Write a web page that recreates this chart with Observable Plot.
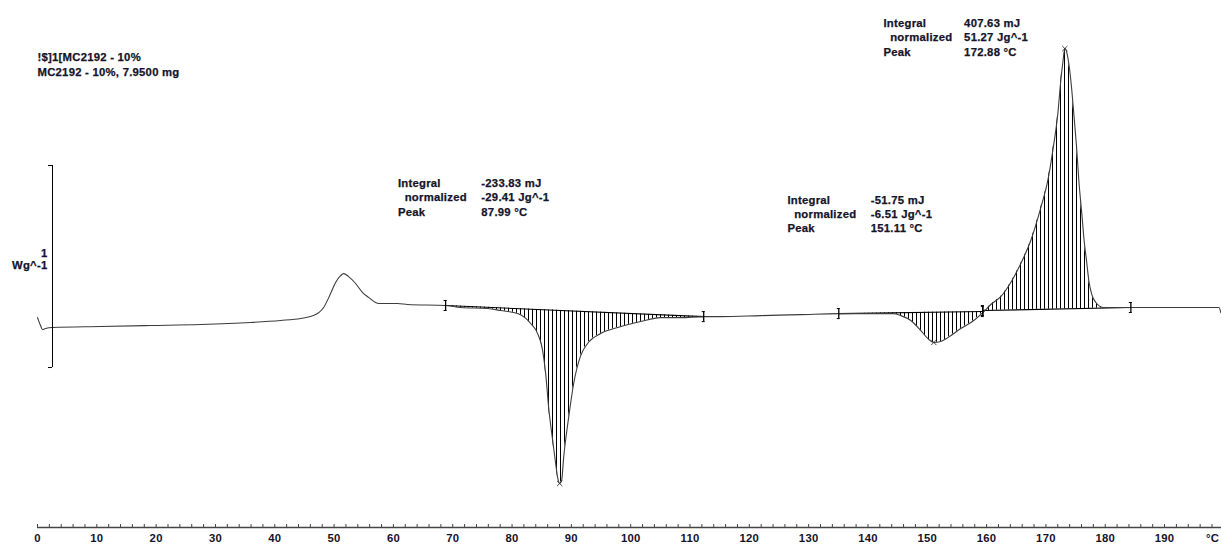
<!DOCTYPE html>
<html><head><meta charset="utf-8">
<script src="https://cdn.jsdelivr.net/npm/d3@7"></script>
<script src="https://cdn.jsdelivr.net/npm/@observablehq/plot@0.6"></script>
<style>html,body{margin:0;padding:0;background:#fff;}</style>
</head><body><div id="chart"></div>
<script>
// ---- data ----
const temperature = [0, 0.51, 0.84, 1.35, 2.53, 10.62, 19.06, 27.49, 35.92, 40.98, 44.35, 46.54, 48.23, 49.41, 50.25, 51.10, 51.60, 52.45, 53.63, 54.81, 55.82, 57.00, 57.50, 60.71, 62.39, 68.80, 71.33, 75.89, 78.08, 80.94, 83.14, 84.32, 85.16, 85.67, 86.17, 86.85, 87.35, 87.69, 88.03, 88.36, 88.70, 89.54, 90.39, 91.57, 92.75, 94.94, 97.81, 101.69, 105.06, 108.43, 112.31, 115.18, 121.92, 128.67, 135.08, 140.47, 144.35, 145.53, 147.22, 148.91, 150.08, 151.10, 152.28, 153.46, 155.65, 157.84, 159.36, 160.71, 162.39, 164.08, 165.77, 167.45, 169.14, 170.32, 171.16, 172.01, 172.51, 172.85, 173.19, 173.52, 173.86, 174.37, 174.70, 175.21, 175.55, 176.05, 176.39, 176.90, 177.23, 177.74, 178.42, 179.76, 184.32, 189.38, 196.12, 199.16, 199.49];
const heatFlow = [-0.050, -0.089, -0.109, -0.104, -0.099, -0.094, -0.089, -0.084, -0.074, -0.064, -0.054, -0.040, 0, 0.069, 0.124, 0.158, 0.168, 0.153, 0.119, 0.074, 0.050, 0.025, 0.020, 0.020, 0.015, 0.010, 0.000, -0.005, -0.015, -0.030, -0.079, -0.129, -0.213, -0.327, -0.495, -0.658, -0.772, -0.842, -0.871, -0.856, -0.743, -0.545, -0.376, -0.238, -0.178, -0.129, -0.099, -0.069, -0.050, -0.050, -0.045, -0.045, -0.040, -0.035, -0.030, -0.030, -0.030, -0.040, -0.064, -0.114, -0.153, -0.173, -0.168, -0.149, -0.104, -0.064, -0.025, 0.015, 0.054, 0.124, 0.218, 0.332, 0.495, 0.629, 0.777, 0.960, 1.124, 1.213, 1.282, 1.262, 1.208, 1.074, 0.960, 0.777, 0.629, 0.465, 0.347, 0.218, 0.134, 0.064, 0.025, 0, 0, 0, 0, 0, -0.025];

const peakTemps = [88.03, 151.10, 173.19];
const peakFlows = [-0.871, -0.173, 1.282];
const limitStart = [68.80, 135.08, 159.36];
const limitEnd = [112.31, 159.36, 184.32];
const baseStart = [0.010, -0.030, -0.015];
const baseEnd = [-0.045, -0.020, 0.000];

const resultLabels = ["Integral", "\u00a0\u00a0normalized", "Peak"];
const resultValues = [
  ["-233.83 mJ", "-29.41 Jg^-1", "87.99 °C"],
  ["-51.75 mJ", "-6.51 Jg^-1", "151.11 °C"],
  ["407.63 mJ", "51.27 Jg^-1", "172.88 °C"]
];
const sampleLines = ["!$]1[MC2192 - 10%", "MC2192 - 10%, 7.9500 mg"];
const scaleBarLines = ["1", "Wg^-1"];
const unitLabel = "°C";
const xTicks = d3.range(0, 200, 10);
const xMinorTicks = d3.range(0, 200, 2);

// ---- layout (positions of annotations, in data units) ----
const xDomain = [0, 199.6];
const yDomain = [-1.089, 1.520];
const resultPos = [
  {xl: 60.76, xv: 74.82, y: 0.648},
  {xl: 126.42, xv: 140.47, y: 0.565},
  {xl: 142.61, xv: 156.21, y: 1.440}
];
const headerPos = {x: 0, y: 1.275};
const scaleBarPos = {x: 2.53, y1: -0.297, y2: 0.703, labelY: 0.291};
const unitPos = 198.1;

// ---- derived tables ----
const curve = temperature.map((t, i) => ({t, v: heatFlow[i]}));
const regions = limitStart.map((t1, k) => ({k, t1, t2: limitEnd[k], v1: baseStart[k], v2: baseEnd[k]}));
const hatch = regions.flatMap(r => curve
  .filter(d => d.t >= r.t1 - 1e-9 && d.t <= r.t2 + 1e-9)
  .map(d => ({k: r.k, t: d.t, v: d.v, base: r.v1 + (r.v2 - r.v1) * (d.t - r.t1) / (r.t2 - r.t1)})));
const limits = regions.flatMap(r => [{t: r.t1, v: r.v1}, {t: r.t2, v: r.v2}]);
const peaks = peakTemps.map((t, i) => ({t, v: peakFlows[i]}));
const labelBlocks = resultPos.map(p => ({x: p.xl, y: p.y, text: resultLabels.join("\n")}));
const valueBlocks = resultPos.map((p, i) => ({x: p.xv, y: p.y, text: resultValues[i].join("\n")}));

const ink = "#14142a";
const textStyle = {fill: ink, stroke: ink, strokeWidth: 0.25};

const chart = Plot.plot({
  width: 1221,
  height: 545,
  marginLeft: 37,
  marginRight: 0,
  marginTop: 0,
  marginBottom: 18,
  x: {domain: xDomain},
  y: {domain: yDomain, axis: null},
  style: {fontFamily: "'Liberation Sans', Arial, sans-serif", fontSize: "11.3px", fontWeight: "bold", letterSpacing: "0.25px", color: ink, background: "#fff"},
  marks: [
    // hatched integration areas
    Plot.areaY(hatch, {x: "t", y1: "base", y2: "v", z: "k", fill: "url(#hatch)", curve: "monotone-x"}),
    // integration baselines
    Plot.link(regions, {x1: "t1", y1: "v1", x2: "t2", y2: "v2", stroke: "#000", strokeWidth: 1.1}),
    // DSC curve
    Plot.line(curve, {x: "t", y: "v", stroke: "#3c3c3c", strokeWidth: 1.1, curve: "monotone-x"}),
    // limit markers
    Plot.ruleX(limits, {x: "t", y1: "v", y2: "v", insetTop: -5, insetBottom: -5, stroke: "#000", strokeWidth: 1.3}),
    Plot.ruleY(limits, {y: "v", x1: "t", x2: "t", insetLeft: -1.5, insetRight: -1.5, dy: -5, stroke: "#000", strokeWidth: 1}),
    Plot.ruleY(limits, {y: "v", x1: "t", x2: "t", insetLeft: -1.5, insetRight: -1.5, dy: 5, stroke: "#000", strokeWidth: 1}),
    // peak markers
    Plot.dot(peaks, {x: "t", y: "v", symbol: "times", r: 2.5, stroke: "#333", strokeWidth: 0.9}),
    // scale bar
    Plot.ruleX([scaleBarPos], {x: "x", y1: "y1", y2: "y2", stroke: "#000", strokeWidth: 1}),
    Plot.ruleY([{x: scaleBarPos.x, y: scaleBarPos.y1}, {x: scaleBarPos.x, y: scaleBarPos.y2}], {x1: "x", x2: "x", y: "y", insetRight: 4, stroke: "#000", strokeWidth: 1}),
    Plot.text([scaleBarLines.join("\n")], {x: scaleBarPos.x, y: scaleBarPos.labelY, text: d => d, textAnchor: "end", lineAnchor: "top", lineHeight: 1.07, dx: -5, ...textStyle}),
    // header
    Plot.text([sampleLines.join("\n")], {x: headerPos.x, y: headerPos.y, text: d => d, textAnchor: "start", lineAnchor: "top", lineHeight: 1.37, ...textStyle}),
    // result blocks
    Plot.text(labelBlocks, {x: "x", y: "y", text: "text", textAnchor: "start", lineAnchor: "top", lineHeight: 1.27, ...textStyle}),
    Plot.text(valueBlocks, {x: "x", y: "y", text: "text", textAnchor: "start", lineAnchor: "top", lineHeight: 1.27, ...textStyle}),
    // x axis
    Plot.ruleY([yDomain[0]], {stroke: "#444", strokeWidth: 1.3}),
    Plot.ruleX(xMinorTicks, {x: d => d, y1: yDomain[0], y2: yDomain[0], insetBottom: 3, stroke: "#444", strokeWidth: 1}),
    Plot.axisX(xTicks, {anchor: "bottom", tickSize: 0, tickPadding: 6.5, label: null, ...textStyle}),
    Plot.axisX([unitPos], {anchor: "bottom", tickSize: 0, tickPadding: 6.5, label: null, tickFormat: () => unitLabel, ...textStyle})
  ]
});

// hatch pattern definition
const ns = "http://www.w3.org/2000/svg";
const defs = document.createElementNS(ns, "defs");
const pat = document.createElementNS(ns, "pattern");
pat.setAttribute("id", "hatch");
pat.setAttribute("patternUnits", "userSpaceOnUse");
pat.setAttribute("width", "4");
pat.setAttribute("height", "20");
const ln = document.createElementNS(ns, "line");
ln.setAttribute("x1", "0.5"); ln.setAttribute("x2", "0.5");
ln.setAttribute("y1", "0"); ln.setAttribute("y2", "20");
ln.setAttribute("stroke", "#000"); ln.setAttribute("stroke-width", "1");
ln.setAttribute("shape-rendering", "crispEdges");
pat.appendChild(ln); defs.appendChild(pat);
chart.insertBefore(defs, chart.firstChild);

document.getElementById("chart").appendChild(chart);
</script></body></html>
